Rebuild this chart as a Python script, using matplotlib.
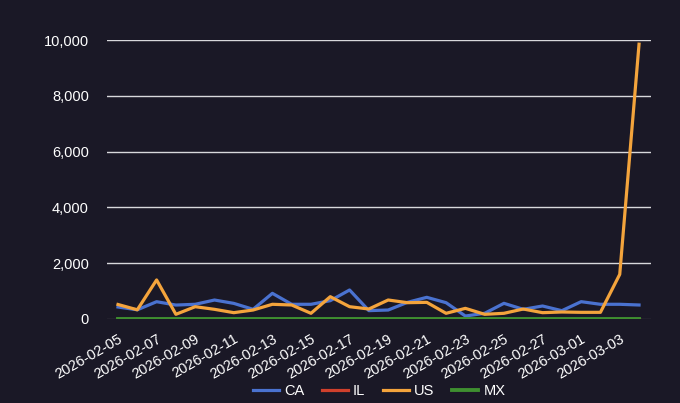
import matplotlib
matplotlib.use("Agg")
import matplotlib.pyplot as plt
from matplotlib.ticker import FuncFormatter, MultipleLocator
import pandas as pd

dates = pd.date_range("2026-02-05", "2026-03-04").strftime("%Y-%m-%d").tolist()
ca = [430, 330, 620, 500, 527, 680, 560, 347, 920, 527, 527, 657, 1040, 300, 322, 597,
      777, 585, 107, 204, 562, 347, 466, 298, 621, 527, 527, 502]
il = [0] * 28
us = [520, 330, 1400, 168, 441, 347, 227, 322, 527, 502, 204, 800, 441, 358, 681, 585,
      597, 204, 382, 168, 204, 358, 227, 251, 239, 239, 1600, 9850]
mx = [0] * 28

bg = "#1a1826"
plt.rcParams["font.family"] = ["Liberation Sans", "DejaVu Sans"]
fig = plt.figure(figsize=(6.8, 4.03), dpi=100, facecolor=bg)
ax = fig.add_axes([107 / 680, (403 - 319) / 403, 544 / 680, 279 / 403], facecolor=bg)

x = list(range(len(dates)))
ax.plot(x, ca, color="#4a72d0", lw=2.3, label="CA", zorder=3)
ax.plot(x, il, color="#d0402c", lw=2.3, label="IL", zorder=3)
ax.plot(x, us, color="#f4a43c", lw=2.3, label="US", zorder=4)
ax.plot(x, mx, color="#3f8f30", lw=2.8, label="MX", zorder=5)

ax.set_xlim(-0.57, 27.62)
ax.set_ylim(0, 10000)
ax.yaxis.set_major_locator(MultipleLocator(2000))
ax.yaxis.set_major_formatter(FuncFormatter(lambda v, p: f"{int(v):,}"))
ax.set_xticks(x[::2])
ax.set_xticklabels(dates[::2], rotation=30, ha="right", rotation_mode="anchor")

for s in ax.spines.values():
    s.set_visible(False)
ax.tick_params(axis="both", length=0, colors="white", labelsize=10.5)
ax.tick_params(axis="y", pad=13)
ax.tick_params(axis="x", pad=9)
for v in range(2000, 10001, 2000):
    ax.axhline(v, color="#d8d8dc", lw=1, zorder=1)
ax.axhline(0, color="#44444c", lw=1, zorder=1)

leg = ax.legend(loc="center", bbox_to_anchor=(0.5, -0.258), ncol=4, frameon=False,
                fontsize=10.5, handlelength=1.8, columnspacing=1.2, handletextpad=0.35)
for t in leg.get_texts():
    t.set_color("white")

fig.savefig("out.png", dpi=100, facecolor=bg)
